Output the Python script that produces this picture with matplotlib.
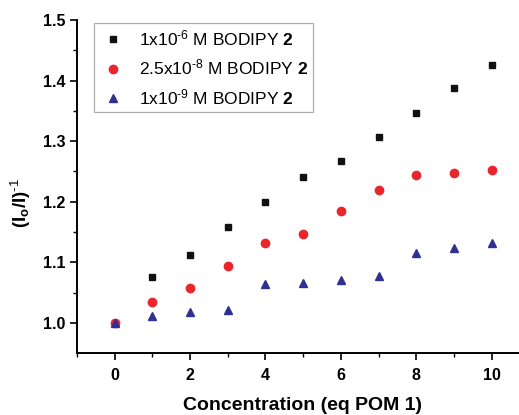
import numpy as np
import matplotlib
matplotlib.use('Agg')
import matplotlib.pyplot as plt

plt.rcParams['font.family'] = ['Liberation Sans', 'DejaVu Sans']
plt.rcParams['mathtext.fontset'] = 'custom'
plt.rcParams['mathtext.rm'] = 'Liberation Sans'
plt.rcParams['mathtext.it'] = 'Liberation Sans'
plt.rcParams['mathtext.bf'] = 'Liberation Sans:bold'

# equivalents of POM 1
conc = [0, 1, 2, 3, 4, 5, 6, 7, 8, 9, 10]
# (Io/I)^-1 for the three BODIPY 2 concentrations
y_1e6 = [1.000, 1.075, 1.112, 1.158, 1.200, 1.240, 1.267, 1.306, 1.347, 1.387, 1.425]
y_25e8 = [1.000, 1.035, 1.057, 1.094, 1.131, 1.147, 1.184, 1.219, 1.244, 1.247, 1.253]
y_1e9 = [1.000, 1.012, 1.018, 1.022, 1.064, 1.065, 1.071, 1.078, 1.115, 1.123, 1.131]

labels = [r'1x10$^{\text{-6}}$ M BODIPY $\mathbf{2}$',
          r'2.5x10$^{\text{-8}}$ M BODIPY $\mathbf{2}$',
          r'1x10$^{\text{-9}}$ M BODIPY $\mathbf{2}$']

fig = plt.figure(figsize=(5.19, 4.15), dpi=100)
ax = fig.add_axes([0.148, 0.149, 0.852, 0.803])

ax.plot(conc, y_1e6, 's', color='#111111', ms=5.0, label=labels[0], zorder=3)
ax.plot(conc, y_25e8, 'o', color='#e8262b', ms=6, label=labels[1], zorder=3)
ax.plot(conc, y_1e9, '^', color='#2e3192', ms=6.2, label=labels[2], zorder=4)

ax.set_xlim(-1, 10.72)
ax.set_ylim(0.95, 1.5)
ax.set_xticks([0, 2, 4, 6, 8, 10])
ax.set_xticks([-1, 1, 3, 5, 7, 9], minor=True)
ax.set_yticks([1.0, 1.1, 1.2, 1.3, 1.4, 1.5])
ax.set_yticks([1.05, 1.15, 1.25, 1.35, 1.45], minor=True)
ax.set_yticklabels(['1.0', '1.1', '1.2', '1.3', '1.4', '1.5'])

ax.spines['top'].set_visible(False)
ax.spines['right'].set_visible(False)
ax.spines['left'].set_linewidth(1.4)
ax.spines['bottom'].set_linewidth(1.4)
ax.tick_params(which='major', direction='out', length=5, width=1.2, labelsize=11.5)
ax.tick_params(axis='x', which='major', pad=6)
ax.tick_params(which='minor', direction='out', length=3, width=1.0)
for t in ax.get_xticklabels() + ax.get_yticklabels():
    t.set_fontweight('bold')

ax.set_xlabel('Concentration (eq POM 1)', fontsize=14, fontweight='bold')
ax.xaxis.set_label_coords(0.51, -0.133)
ax.set_ylabel(r'$\mathbf{(I_o/I)^{\text{-1}}}$', fontsize=13.5)
ax.yaxis.set_label_coords(-0.1, 0.45)

leg = ax.legend(loc='upper left', bbox_to_anchor=(0.038, 0.99), fontsize=12.5,
                frameon=True, fancybox=False, edgecolor='#999999',
                handletextpad=0.7, borderpad=0.3, labelspacing=0.55,
                handlelength=1.6, borderaxespad=0)
leg.get_frame().set_linewidth(0.9)

fig.savefig('out.png', dpi=100)
